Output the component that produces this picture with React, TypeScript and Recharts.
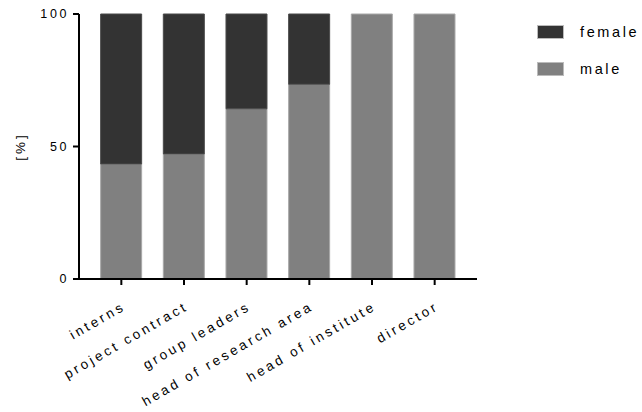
import { BarChart, Bar, XAxis, YAxis, Legend } from 'recharts';

const categories = [
  'interns',
  'project contract',
  'group leaders',
  'head of research area',
  'head of institute',
  'director',
];
const maleShare = [43.4, 47.2, 64.2, 73.5, 100, 100];
const femaleShare = [56.6, 52.8, 35.8, 26.5, 0, 0];
const yTicks = [0, 50, 100];

const data = categories.map((name, i) => ({
  name,
  male: maleShare[i],
  female: femaleShare[i],
}));

const FONT = '"Liberation Sans", Arial, sans-serif';

function XTick({ x, y, payload }: any) {
  return (
    <g transform={`translate(${x + 5},${y + 22})`}>
      <text
        textAnchor="end"
        transform="rotate(-30)"
        fill="#000"
        fontSize={13.5}
        letterSpacing={3}
        fontFamily={FONT}
      >
        {payload.value}
      </text>
    </g>
  );
}

function LegendBox({ payload }: any) {
  const items = payload || [];
  return (
    <div style={{ fontFamily: FONT }}>
      {items.map((it: any) => (
        <div key={it.value} style={{ display: 'flex', alignItems: 'center', height: 37 }}>
          <div style={{ width: 27, height: 14, background: it.color, border: '1px solid #bbb', boxSizing: 'border-box' }} />
          <span style={{ marginLeft: 16, fontSize: 14.5, letterSpacing: 2.6, color: '#000' }}>{it.value}</span>
        </div>
      ))}
    </div>
  );
}

export default function App() {
  return (
    <div style={{ position: 'absolute', left: 0, top: 0, width: 642, height: 412, background: '#fff' }}>
      <BarChart
        width={642}
        height={412}
        data={data}
        margin={{ top: 14, right: 60, bottom: 33, left: 19 }}
        barCategoryGap="17%"
      >
        <XAxis
          dataKey="name"
          height={100}
          interval={0}
          padding={{ left: 11, right: 11 }}
          axisLine={{ stroke: '#000', strokeWidth: 2 }}
          tickLine={{ stroke: '#000', strokeWidth: 2 }}
          tickSize={6}
          tick={<XTick />}
        />
        <YAxis
          width={60}
          domain={[0, 100]}
          ticks={yTicks}
          interval={0}
          axisLine={{ stroke: '#000', strokeWidth: 2 }}
          tickLine={{ stroke: '#000', strokeWidth: 2 }}
          tickSize={6}
          tickMargin={4}
          tick={{ fill: '#000', fontSize: 12.5, letterSpacing: 2.6, fontFamily: FONT }}
          label={{
            value: '[%]',
            angle: -90,
            position: 'insideLeft',
            offset: 1,
            style: { fill: '#000', fontSize: 13.5, letterSpacing: 3, fontFamily: FONT, textAnchor: 'middle' },
          }}
        />
        <Legend
          layout="vertical"
          verticalAlign="top"
          align="right"
          content={<LegendBox />}
          wrapperStyle={{ left: 537, top: 13, width: 105 }}
        />
        <Bar dataKey="male" name="male" stackId="s" fill="#808080" stroke="#a8a8a8" strokeWidth={1} isAnimationActive={false} />
        <Bar dataKey="female" name="female" stackId="s" fill="#333333" stroke="#4a4a4a" strokeWidth={1} isAnimationActive={false} />
      </BarChart>
    </div>
  );
}
